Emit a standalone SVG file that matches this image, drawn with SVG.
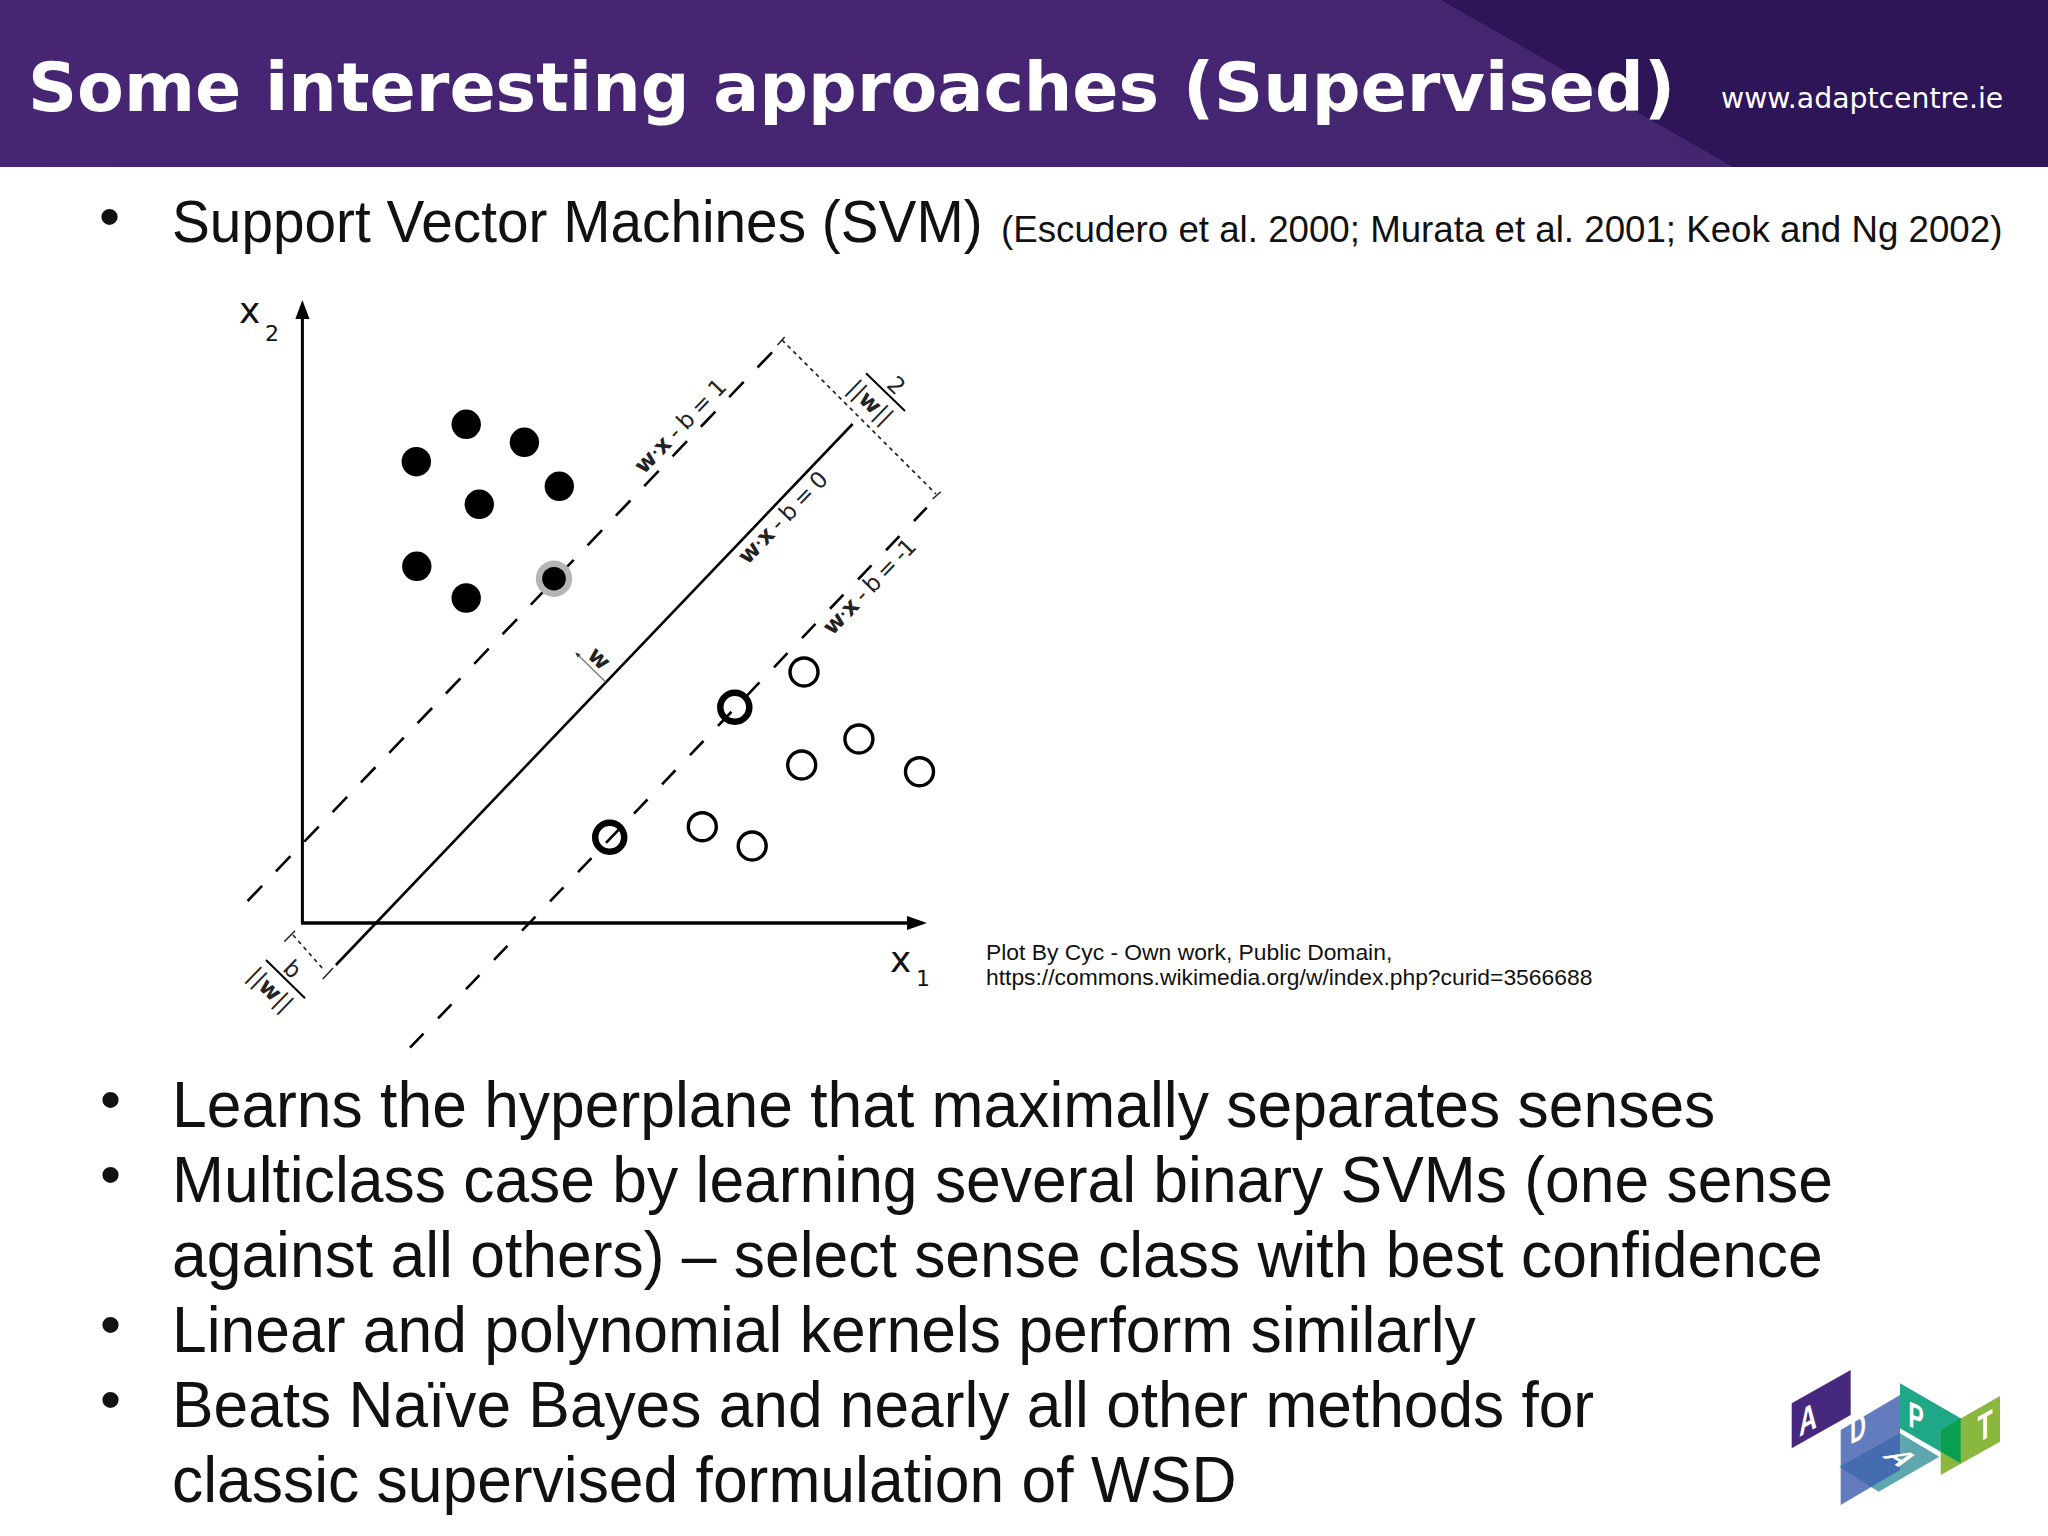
<svg xmlns="http://www.w3.org/2000/svg" width="2048" height="1536" viewBox="0 0 2048 1536">
<style>
.b{font-family:"Liberation Sans",Arial,sans-serif;font-size:65px;fill:#111}
.b1{font-family:"Liberation Sans",Arial,sans-serif;font-size:60px;fill:#111}
.u{font-family:"Liberation Sans",Arial,sans-serif;font-size:60px;fill:#111}
.d{font-family:"DejaVu Sans",sans-serif;fill:#111}
.lb{font-size:23px;text-anchor:middle;fill:#222}
.c{font-family:"Liberation Sans",Arial,sans-serif;font-size:22.85px;fill:#111}
.f{fill:#000}
.o{fill:#fff;stroke:#000;stroke-width:3.4}
.t{fill:#fff;stroke:#000;stroke-width:6.5}
.k{stroke:#000;stroke-width:2.6;fill:none}
.tick{stroke:#222;stroke-width:1.5;fill:none}
.dash{stroke:#000;stroke-width:2.6;fill:none}
.dot{stroke:#222;stroke-width:1.7;fill:none;stroke-dasharray:4 4}
.l{font-family:"Liberation Sans",Arial,sans-serif;font-weight:bold;font-size:38px;fill:#fff;text-anchor:middle}
</style>
<defs>
<linearGradient id="hg" x1="0" x2="1" y1="0" y2="0"><stop offset="0" stop-color="#462674"/><stop offset="1" stop-color="#44256f"/></linearGradient>
</defs>
<rect width="2048" height="1536" fill="#fff"/>
<g id="header">
<rect width="2048" height="167" fill="url(#hg)"/>
<polygon points="1441,0 2048,0 2048,167 1733,167" fill="#2e1558"/>
<text x="28" y="111" font-family="DejaVu Sans" font-weight="bold" font-size="68.2" fill="#fff">Some interesting approaches (Supervised)</text>
<text x="1721" y="108" font-family="DejaVu Sans" font-size="28.3" fill="#fff">www.adaptcentre.ie</text>
</g>
<g id="top-text">
<text class="u" x="99" y="237">•</text>
<text class="b1" transform="matrix(.946 0 0 1 172 241.7)">Support Vector Machines (SVM)</text>
<text x="1001" y="242" font-family="Liberation Sans" font-size="36.7" fill="#111">(Escudero et al. 2000; Murata et al. 2001; Keok and Ng 2002)</text>
</g>
<g id="connectors">
<line class="k" x1="852.6" y1="424" x2="335.9" y2="965"/>
<line class="dash" x1="247.6" y1="901" x2="772.6" y2="351.7" stroke-dasharray="21 20"/>
<path class="dot" d="M782,340L936,494M293,935L324,970"/>
<path class="tick" d="M777.5,345L784.7,337M932.6,499L940.8,491.7M284.3,941.7L295,930.7M322.8,979L333,968"/>
<path class="k" style="stroke-width:2" d="M866,373.3L905,411M266,960L305,998.3"/>
<line x1="605.4" y1="681.7" x2="578" y2="655" stroke="#777" stroke-width="1.3"/>
<polygon points="575.3,652.3 580.5,654.5 577.5,657.5" fill="#333"/>
</g>
<g id="axes">
<line x1="302.4" y1="923" x2="302.4" y2="315" stroke="#000" stroke-width="3"/>
<polygon points="302.4,300 309.5,319 295.3,319" fill="#000"/>
<line x1="301" y1="923" x2="912" y2="923" stroke="#000" stroke-width="3.6"/>
<polygon points="927,923 907,916 907,930" fill="#000"/>
</g>
<g id="points-positive">
<circle class="f" cx="466.2" cy="424.3" r="14.7"/>
<circle class="f" cx="524.4" cy="442.3" r="14.7"/>
<circle class="f" cx="416.3" cy="461.7" r="14.7"/>
<circle class="f" cx="559.3" cy="486.3" r="14.7"/>
<circle class="f" cx="479.3" cy="504.3" r="14.7"/>
<circle class="f" cx="416.8" cy="566.3" r="14.7"/>
<circle class="f" cx="466.2" cy="598" r="14.7"/>
<circle cx="554" cy="578.7" r="18.2" fill="#b5b5b5"/>
<circle class="f" cx="554" cy="578.7" r="11.8"/>
</g>
<g id="points-negative">
<circle class="o" cx="804" cy="672" r="14"/>
<circle class="o" cx="858.9" cy="739" r="14"/>
<circle class="o" cx="801.7" cy="765" r="14"/>
<circle class="o" cx="919.5" cy="771.7" r="14"/>
<circle class="o" cx="702.3" cy="826.7" r="14"/>
<circle class="o" cx="752.2" cy="846" r="14"/>
<circle class="t" cx="734.8" cy="707.3" r="14.5"/>
<circle class="t" cx="609.7" cy="837.3" r="14.5"/>
</g>
<g id="lower-margin">
<line class="dash" x1="410" y1="1047.7" x2="926.7" y2="507.7" stroke-dasharray="19.5 21"/>
</g>
<g id="labels">
<text class="d lb" textLength="121" transform="translate(685.8,431.5) rotate(-46)"><tspan font-weight="bold">w</tspan>·<tspan font-weight="bold">x</tspan> - b = 1</text>
<text class="d lb" textLength="118" transform="translate(788.5,523) rotate(-46)"><tspan font-weight="bold">w</tspan>·<tspan font-weight="bold">x</tspan> - b = 0</text>
<text class="d lb" textLength="123" transform="translate(875,592) rotate(-46)"><tspan font-weight="bold">w</tspan>·<tspan font-weight="bold">x</tspan> - b = -1</text>
<text class="d lb" font-weight="bold" transform="translate(594,664) rotate(44)">w</text>
<text class="d lb" transform="translate(890.8,391) rotate(44)">2</text>
<text class="d lb" transform="translate(865,407.8) rotate(44)">||<tspan font-weight="bold">w</tspan>||</text>
<text class="d lb" transform="translate(287,974.8) rotate(44)">b</text>
<text class="d lb" transform="translate(265,995.2) rotate(44)">||<tspan font-weight="bold">w</tspan>||</text>
<text class="d" x="239" y="323" font-size="36">x</text>
<text class="d" x="265" y="341" font-size="22">2</text>
<text class="d" x="890" y="972" font-size="36">x</text>
<text class="d" x="916" y="986" font-size="22">1</text>
</g>
<g id="credit">
<text class="c" x="986" y="960">Plot By Cyc - Own work, Public Domain,</text>
<text class="c" x="986" y="985">https://commons.wikimedia.org/w/index.php?curid=3566688</text>
</g>
<g id="bullets">
<text class="u" x="100" y="1120">•</text>
<text class="b" transform="matrix(.96 0 0 1 172 1126.7)">Learns the hyperplane that maximally separates senses</text>
<text class="u" x="100" y="1195">•</text>
<text class="b" transform="matrix(.96 0 0 1 172 1201.7)">Multiclass case by learning several binary SVMs (one sense</text>
<text class="b" transform="matrix(.96 0 0 1 172 1276.7)">against all others) – select sense class with best confidence</text>
<text class="u" x="100" y="1345">•</text>
<text class="b" transform="matrix(.96 0 0 1 172 1351.7)">Linear and polynomial kernels perform similarly</text>
<text class="u" x="100" y="1420">•</text>
<text class="b" transform="matrix(.958 0 0 1 172 1426.7)">Beats Naïve Bayes and nearly all other methods for</text>
<text class="b" transform="matrix(.96 0 0 1 172 1501.7)">classic supervised formulation of WSD</text>
</g>
<g id="logo">
<polygon points="1791.7,1403.3 1850.7,1370 1850.7,1415 1791.7,1448.3" fill="#47287f"/>
<polygon points="1839.3,1466.7 1900,1433.3 1939.3,1456.7 1878.7,1491.7" fill="#5fa7ae"/>
<polygon points="1900,1383.3 1960.7,1418.3 1960.7,1463.3 1900,1428.3" fill="#1fa887"/>
<polygon points="1840.7,1430 1900,1395 1900,1470 1840.7,1505" fill="#3f5fb0" fill-opacity=".82"/>
<polygon points="1940.7,1430 2000,1396 2000,1441.7 1940.7,1475" fill="#8ab83f"/>
<polygon points="1940.7,1430 1960.7,1418.3 1960.7,1463.3 1940.7,1451.7" fill="#0a9f50"/>
<text class="l" transform="matrix(.65,-.36,0,1,1808,1432)">A</text>
<text class="l" transform="matrix(.58,-.26,0,1,1858,1441)">D</text>
<text class="l" style="font-size:30px" transform="matrix(.83,.5,-1.08,.4,1890,1462)">A</text>
<text class="l" style="font-size:36px" transform="matrix(.65,.25,0,1,1916,1429)">P</text>
<text class="l" transform="matrix(.65,-.36,0,1,1985,1439)">T</text>
</g>
</svg>
